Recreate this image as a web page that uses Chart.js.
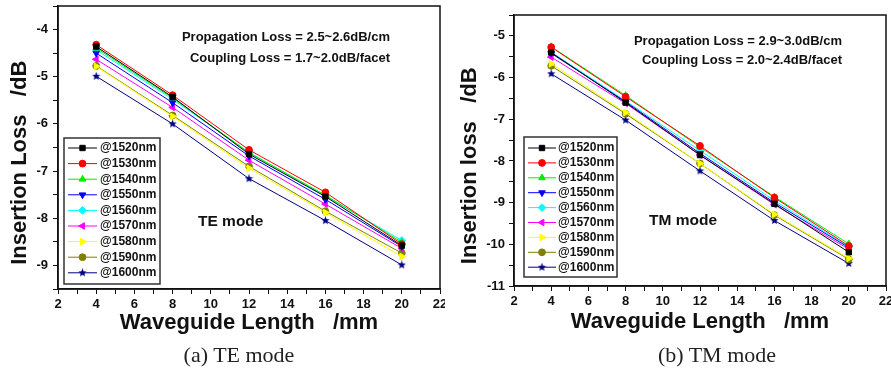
<!DOCTYPE html>
<html>
<head>
<meta charset="utf-8">
<script src="https://cdn.jsdelivr.net/npm/chart.js@4.4.0/dist/chart.umd.min.js"></script>
<style>
    body { margin: 0; background: #fff; width: 891px; height: 368px; position: relative; overflow: hidden; }
    .pane { position: absolute; top: 0; height: 368px; }
    .caption { position: absolute; top: 342px; font: 22px "Liberation Serif", "Times New Roman", serif; color: #222; transform: translateX(-50%); white-space: nowrap; }
</style>
</head>
<body>
<div class="pane" style="left:0;width:445px"><canvas id="teChart"></canvas></div>
<div class="pane" style="left:445px;width:446px"><canvas id="tmChart"></canvas></div>
<div class="caption" style="left:239px">(a) TE mode</div>
<div class="caption" style="left:717px">(b) TM mode</div>
<script>
// waveguide lengths (mm) and wavelengths
const lengths = [4, 8, 12, 16, 20];
const wavelengths = ["@1520nm", "@1530nm", "@1540nm", "@1550nm", "@1560nm", "@1570nm", "@1580nm", "@1590nm", "@1600nm"];

// TE mode insertion loss (dB)
const te1520 = [-4.36, -5.43, -6.64, -7.54, -8.58];
const te1530 = [-4.32, -5.39, -6.55, -7.45, -8.55];
const te1540 = [-4.39, -5.45, -6.61, -7.51, -8.51];
const te1550 = [-4.50, -5.55, -6.68, -7.60, -8.60];
const te1560 = [-4.43, -5.48, -6.60, -7.53, -8.47];
const te1570 = [-4.63, -5.65, -6.77, -7.70, -8.64];
const te1580 = [-4.78, -5.84, -6.94, -7.88, -8.81];
const te1590 = [-4.77, -5.82, -6.90, -7.85, -8.74];
const te1600 = [-4.99, -6.00, -7.16, -8.05, -8.99];

// TM mode insertion loss (dB)
const tm1520 = [-5.40, -6.60, -7.86, -9.03, -10.19];
const tm1530 = [-5.27, -6.46, -7.64, -8.88, -10.04];
const tm1540 = [-5.26, -6.43, -7.67, -8.86, -9.99];
const tm1550 = [-5.42, -6.58, -7.82, -9.00, -10.08];
const tm1560 = [-5.39, -6.56, -7.75, -8.95, -10.06];
const tm1570 = [-5.51, -6.62, -7.86, -9.05, -10.12];
const tm1580 = [-5.67, -6.84, -8.06, -9.28, -10.34];
const tm1590 = [-5.72, -6.87, -8.06, -9.30, -10.36];
const tm1600 = [-5.91, -7.02, -8.24, -9.43, -10.46];

const colors = ["#000000", "#ff0000", "#00ee00", "#0000ff", "#00ffff", "#ff00ff", "#ffff00", "#808000", "#000080"];
const FONT = "Arial, 'Liberation Sans', sans-serif";

// filled five point star used for the 1600nm series
function makeStar(color) {
    const c = document.createElement("canvas");
    c.width = 9; c.height = 9;
    const g = c.getContext("2d");
    g.fillStyle = color;
    g.beginPath();
    for (let k = 0; k < 10; k++) {
        const r = k % 2 === 0 ? 4.4 : 1.9;
        const a = -Math.PI / 2 + k * Math.PI / 5;
        g.lineTo(4.5 + r * Math.cos(a), 4.5 + r * Math.sin(a));
    }
    g.closePath();
    g.fill();
    return c;
}

const markers = ["rect", "circle", "triangle", "triangle", "rectRot", "triangle", "triangle", "circle", makeStar(colors[8])];
const rotations = [0, 0, 0, 180, 0, 270, 90, 0, 0];
const radii = [3.8, 3.4, 3.8, 3.8, 3.8, 3.8, 3.8, 3.4, 4];

function makeDatasets(series) {
    return series.map((vals, i) => ({
        label: wavelengths[i],
        data: lengths.map((x, j) => ({ x: x, y: vals[j] })),
        borderColor: colors[i],
        backgroundColor: colors[i],
        borderWidth: 1,
        pointStyle: markers[i],
        pointRotation: rotations[i],
        pointRadius: radii[i],
        pointBorderWidth: 1,
        tension: 0
    }));
}

// frame, text notes and the boxed legend
const decorPlugin = {
    id: "decor",
    afterDraw(chart, args, opts) {
        const ctx = chart.ctx;
        const a = chart.chartArea;
        ctx.save();
        ctx.strokeStyle = "#111";
        ctx.lineWidth = 1.5;
        ctx.strokeRect(a.left, a.top, a.right - a.left, a.bottom - a.top);

        ctx.fillStyle = "#111";
        ctx.textBaseline = "middle";
        ctx.textAlign = "right";
        ctx.font = "bold 13px " + FONT;
        opts.notes.forEach(n => ctx.fillText(n.text, n.x, n.y));
        ctx.textAlign = "left";
        ctx.font = "bold 15.5px " + FONT;
        ctx.fillText(opts.mode.text, opts.mode.x, opts.mode.y);

        const L = opts.legend;
        ctx.fillStyle = "#fff";
        ctx.fillRect(L.left, L.top, L.width, L.height);
        ctx.strokeStyle = "#333";
        ctx.lineWidth = 1.5;
        ctx.strokeRect(L.left, L.top, L.width, L.height);
        chart.data.datasets.forEach((ds, i) => {
            const y = L.firstRow + i * L.rowGap;
            ctx.strokeStyle = ds.borderColor;
            ctx.lineWidth = 1;
            ctx.beginPath();
            ctx.moveTo(L.lineStart, y);
            ctx.lineTo(L.lineEnd, y);
            ctx.stroke();
            ctx.fillStyle = ds.backgroundColor;
            Chart.helpers.drawPoint(ctx, {
                pointStyle: ds.pointStyle,
                rotation: ds.pointRotation,
                radius: ds.pointRadius,
                borderWidth: 1
            }, (L.lineStart + L.lineEnd) / 2, y);
            ctx.fillStyle = "#111";
            ctx.textAlign = "left";
            ctx.font = "bold 12px " + FONT;
            ctx.fillText(ds.label, L.textX, y);
        });
        ctx.restore();
    }
};

function makeChart(id, cfg) {
    const ctx = document.getElementById(id).getContext("2d");
    return new Chart(ctx, {
        type: "line",
        data: { datasets: makeDatasets(cfg.series) },
        plugins: [decorPlugin],
        options: {
            responsive: true,
            maintainAspectRatio: false,
            animation: false,
            layout: { padding: cfg.padding },
            scales: {
                x: {
                    type: "linear",
                    min: 2,
                    max: 22,
                    ticks: {
                        stepSize: 1,
                        autoSkip: false,
                        maxRotation: 0,
                        padding: cfg.xTickPad,
                        color: "#111",
                        font: { family: FONT, weight: "bold", size: 13 },
                        callback: (v) => (v % 2 === 0 ? v : "")
                    },
                    grid: { drawOnChartArea: false, tickLength: 5, color: "#111" },
                    border: { color: "#111", width: 1.5 },
                    title: {
                        display: true,
                        text: "Waveguide Length   /mm",
                        color: "#111",
                        font: { family: FONT, weight: "bold", size: 22 },
                        padding: { top: 0, bottom: cfg.xTitlePad }
                    },
                    afterFit: (s) => { s.height = cfg.xHeight; s.paddingLeft = 0; s.paddingRight = 0; }
                },
                y: {
                    min: cfg.yMin,
                    max: cfg.yMax,
                    ticks: {
                        stepSize: 0.5,
                        padding: cfg.yTickPad,
                        color: "#111",
                        font: { family: FONT, weight: "bold", size: 13 },
                        callback: (v) => (Number.isInteger(v) ? v : "")
                    },
                    grid: { drawOnChartArea: false, tickLength: 5, color: "#111" },
                    border: { color: "#111", width: 1.5 },
                    title: {
                        display: true,
                        text: cfg.yTitle,
                        color: "#111",
                        font: { family: FONT, weight: "bold", size: 22 },
                        padding: { top: cfg.yTitlePad, bottom: 0 }
                    },
                    afterFit: (s) => { s.width = cfg.yWidth; s.paddingTop = 0; s.paddingBottom = 0; }
                }
            },
            plugins: {
                legend: { display: false },
                tooltip: { enabled: false },
                decor: {
                    notes: cfg.notes,
                    mode: cfg.mode,
                    legend: cfg.legend
                }
            }
        }
    });
}

makeChart("teChart", {
    series: [te1520, te1530, te1540, te1550, te1560, te1570, te1580, te1590, te1600],
    yMin: -9.5, yMax: -3.5,
    padding: { top: 6, right: 4, bottom: 30, left: 0 },
    xHeight: 49, yWidth: 58,
    xTickPad: 3, yTickPad: 5, xTitlePad: 1.8, yTitlePad: 6.8,
    yTitle: "Insertion Loss   /dB     ",
    notes: [
        { text: "Propagation Loss = 2.5~2.6dB/cm", x: 390, y: 37 },
        { text: "Coupling Loss = 1.7~2.0dB/facet", x: 390, y: 58 }
    ],
    mode: { text: "TE mode", x: 198, y: 222 },
    legend: { left: 64, top: 138, width: 96, height: 146, firstRow: 148, rowGap: 15.6, lineStart: 68, lineEnd: 97, textX: 100 }
});

makeChart("tmChart", {
    series: [tm1520, tm1530, tm1540, tm1550, tm1560, tm1570, tm1580, tm1590, tm1600],
    yMin: -11, yMax: -4.5,
    padding: { top: 15, right: 5, bottom: 30, left: 0 },
    xHeight: 52, yWidth: 69,
    xTickPad: 3, yTickPad: 4, xTitlePad: 2.8, yTitlePad: 11.8,
    yTitle: "Insertion loss   /dB     ",
    notes: [
        { text: "Propagation Loss = 2.9~3.0dB/cm", x: 397, y: 41 },
        { text: "Coupling Loss = 2.0~2.4dB/facet", x: 397, y: 60 }
    ],
    mode: { text: "TM mode", x: 204, y: 221 },
    legend: { left: 79, top: 137, width: 93, height: 140, firstRow: 148, rowGap: 14.9, lineStart: 83, lineEnd: 111, textX: 113 }
});
</script>
</body>
</html>
